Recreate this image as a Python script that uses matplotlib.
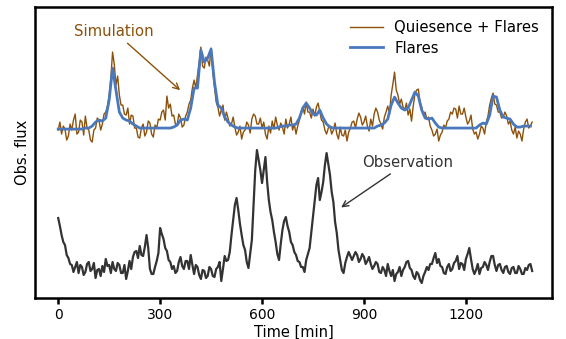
import numpy as np
import matplotlib
matplotlib.use("Agg")
import matplotlib.pyplot as plt

# time grids [min]
time_coarse = list(range(0, 1400, 10))
time_fine = list(range(0, 1400, 5))

# Simulated flares (smooth), on time_coarse
flares = [
    171, 171, 171, 171, 171, 171, 171, 171, 172, 172,
    174, 178, 180, 179, 182, 200, 232, 210, 188, 182,
    180, 179, 176, 174, 172, 172, 172, 172, 172, 172,
    172, 172, 172, 172, 173, 175, 180, 181, 180, 192,
    212, 212, 250, 238, 242, 251, 218, 195, 192, 183,
    178, 175, 173, 172, 172, 172, 172, 172, 172, 172,
    172, 172, 172, 172, 172, 173, 174, 174, 175, 175,
    176, 182, 192, 197, 192, 186, 185, 190, 182, 176,
    173, 172, 172, 172, 172, 172, 172, 172, 172, 172,
    172, 172, 172, 172, 174, 175, 177, 181, 195, 203,
    197, 192, 190, 192, 200, 208, 204, 190, 182, 181,
    182, 177, 173, 172, 172, 172, 172, 172, 172, 172,
    172, 172, 172, 172, 175, 177, 176, 185, 204, 203,
    190, 183, 182, 181, 176, 173, 173, 174, 174, 174,
]

# Simulated quiescence + flares (noisy), on time_fine
quiescence_flares = [
    170, 178, 166, 174, 171, 160, 164, 176, 170, 180,
    186, 166, 168, 180, 178, 165, 184, 172, 170, 160,
    158, 170, 172, 182, 180, 170, 176, 186, 188, 194,
    205, 222, 248, 236, 215, 224, 205, 195, 195, 186,
    185, 192, 176, 185, 184, 172, 172, 163, 162, 172,
    176, 164, 168, 179, 177, 166, 163, 175, 172, 181,
    180, 188, 190, 180, 204, 192, 196, 184, 185, 176,
    175, 186, 182, 173, 175, 184, 188, 196, 200, 212,
    220, 212, 225, 238, 253, 234, 232, 243, 240, 234,
    252, 228, 213, 198, 193, 184, 190, 195, 180, 188,
    182, 174, 176, 183, 173, 165, 168, 174, 161, 168,
    170, 178, 175, 167, 181, 186, 184, 176, 176, 182,
    172, 178, 166, 161, 174, 167, 179, 171, 183, 175,
    170, 177, 173, 166, 181, 172, 176, 183, 170, 176,
    166, 174, 180, 188, 193, 186, 198, 188, 188, 182,
    191, 184, 193, 197, 188, 180, 178, 170, 166, 172,
    174, 166, 170, 177, 166, 161, 173, 165, 164, 170,
    159, 168, 172, 178, 179, 172, 181, 187, 183, 175,
    178, 184, 174, 169, 181, 174, 186, 192, 188, 180,
    176, 171, 183, 188, 194, 186, 205, 216, 228, 210,
    205, 196, 201, 193, 190, 197, 185, 191, 179, 194,
    206, 210, 211, 198, 193, 185, 188, 181, 183, 174,
    170, 164, 166, 171, 159, 165, 168, 175, 172, 179,
    181, 188, 186, 192, 191, 182, 194, 186, 186, 192,
    183, 176, 179, 185, 171, 166, 168, 161, 166, 174,
    172, 166, 178, 184, 195, 202, 207, 196, 195, 188,
    188, 182, 183, 188, 184, 176, 179, 170, 166, 173,
    162, 169, 166, 159, 171, 178, 181, 172, 174, 178,
]

# Observed light curve, on time_fine
observation = [
    82, 74, 65, 58, 55, 45, 42, 36, 35, 28,
    33, 38, 27, 35, 33, 25, 28, 36, 38, 29,
    31, 37, 22, 30, 31, 24, 34, 28, 41, 34,
    35, 27, 38, 31, 29, 37, 35, 27, 27, 35,
    21, 29, 39, 31, 43, 48, 49, 42, 54, 45,
    44, 53, 65, 52, 31, 26, 26, 33, 39, 47,
    72, 66, 61, 52, 49, 40, 38, 31, 34, 27,
    29, 38, 43, 34, 31, 39, 39, 31, 45, 35,
    26, 35, 33, 25, 21, 30, 29, 22, 24, 33,
    31, 24, 23, 31, 33, 38, 19, 31, 44, 39,
    40, 48, 65, 80, 95, 102, 90, 76, 65, 55,
    50, 38, 32, 46, 60, 95, 130, 150, 140, 130,
    117, 130, 143, 118, 100, 88, 80, 68, 58, 46,
    40, 56, 70, 79, 83, 74, 68, 58, 55, 48,
    45, 39, 38, 33, 33, 28, 40, 46, 52, 68,
    85, 100, 115, 122, 100, 108, 118, 135, 147, 136,
    125, 108, 98, 78, 67, 50, 40, 30, 27, 37,
    43, 48, 44, 40, 44, 48, 45, 38, 41, 46,
    43, 36, 39, 43, 36, 31, 34, 38, 36, 28,
    27, 33, 30, 24, 36, 29, 24, 30, 19, 26,
    28, 33, 24, 30, 33, 38, 39, 32, 30, 24,
    21, 28, 26, 20, 17, 24, 28, 33, 30, 36,
    36, 42, 47, 37, 41, 34, 33, 27, 26, 33,
    36, 29, 31, 37, 39, 44, 31, 37, 36, 30,
    41, 46, 52, 41, 31, 26, 30, 36, 26, 32,
    33, 38, 35, 30, 38, 44, 44, 35, 29, 35,
    36, 30, 27, 33, 34, 28, 26, 32, 33, 27,
    27, 34, 31, 26, 26, 32, 30, 35, 36, 29,
]

xticks = [0, 300, 600, 900, 1200]

brown = "#8c510a"
blue = "#4a78bd"
gray = "#333333"

fig = plt.figure(figsize=(5.66, 3.39), dpi=100)
ax = fig.add_axes([0.062, 0.121, 0.913, 0.858])

ax.plot(time_fine, quiescence_flares, color=brown, lw=1.0, label="Quiesence + Flares")
ax.plot(time_coarse, flares, color=blue, lw=2.0, label="Flares")
ax.plot(time_fine, observation, color=gray, lw=1.6)

ax.set_xlim(-68, 1453)
ax.set_ylim(2, 293)
ax.set_xticks(xticks)
ax.set_yticks([])
ax.tick_params(axis="x", direction="out", length=4, width=1.8, labelsize=10)
for s in ax.spines.values():
    s.set_linewidth(1.8)

ax.set_xlabel("Time [min]", fontsize=10.5, labelpad=2)
ax.set_ylabel("Obs. flux", fontsize=10.5, labelpad=4)

ax.annotate("Simulation", xy=(365, 208), xytext=(164, 269),
            color=brown, fontsize=10.7, ha="center", va="center",
            arrowprops=dict(arrowstyle="->", color=brown, lw=1.0))
ax.annotate("Observation", xy=(826, 91), xytext=(1029, 138),
            color=gray, fontsize=10.7, ha="center", va="center",
            arrowprops=dict(arrowstyle="->", color=gray, lw=1.0))

ax.legend(loc="upper right", frameon=False, fontsize=10.7, handlelength=2.2,
          borderaxespad=0.45, labelspacing=0.4)

fig.savefig("out.png", dpi=100)
